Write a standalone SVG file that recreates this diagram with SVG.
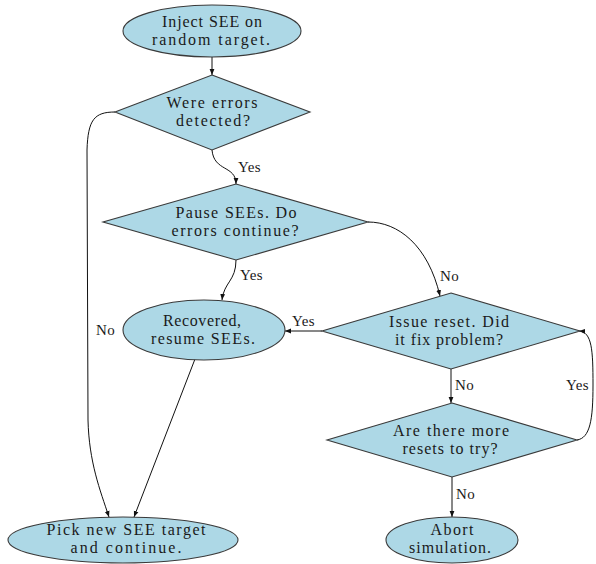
<svg xmlns="http://www.w3.org/2000/svg" width="596" height="564" viewBox="0 0 596 564">
<defs>
<marker id="ah" viewBox="0 0 10 10" refX="10" refY="5" markerWidth="6" markerHeight="6" markerUnits="userSpaceOnUse" orient="auto">
<path d="M0,1 L10,5 L0,9 z" fill="#111"/>
</marker>
<style>
.n{fill:#add8e6;stroke:#3a3a3a;stroke-width:1.1}
.t{font-family:"Liberation Serif","Times New Roman",serif;font-size:16px;fill:#1a1a1a;text-anchor:middle}
.l{font-family:"Liberation Serif","Times New Roman",serif;font-size:15px;fill:#1a1a1a;letter-spacing:0.4px}
.e{fill:none;stroke:#111;stroke-width:1;marker-end:url(#ah)}
</style>
</defs>
<rect width="596" height="564" fill="#fff"/>
<g id="edges">
<path class="e" d="M212,57 L212,75"/>
<path class="e" d="M212,150 C214,172 236,165 236,184"/>
<path class="e" d="M115,112 C94,112 88,120 87,150 L88,420 C89,462 100,490 109,517"/>
<path class="e" d="M236,260 C236,281 224,282 222,300"/>
<path class="e" d="M368,222 C398,222 428,245 440,296"/>
<path class="e" d="M322,331 L285,331"/>
<path class="e" d="M451,369 L451,403"/>
<path class="e" d="M577,440 C590,438 593,420 593,385 C593,350 592,332 579,331"/>
<path class="e" d="M452,477 L452,517"/>
<path class="e" d="M195,359 L134,517"/>
<text class="l" x="238" y="172">Yes</text>
<text class="l" x="96" y="335">No</text>
<text class="l" x="240" y="280">Yes</text>
<text class="l" x="440" y="281">No</text>
<text class="l" x="292" y="326">Yes</text>
<text class="l" x="455" y="390">No</text>
<text class="l" x="566" y="390">Yes</text>
<text class="l" x="456" y="499">No</text>
</g>
<g id="n1">
<ellipse class="n" cx="212" cy="31" rx="89" ry="26"/>
<text class="t" x="212" y="27" textLength="100" lengthAdjust="spacing">Inject SEE on</text>
<text class="t" x="211" y="45" textLength="118" lengthAdjust="spacing">random target.</text>
</g>
<g id="n2">
<polygon class="n" points="212,75 310,112 212,150 115,112"/>
<text class="t" x="212" y="108" textLength="91" lengthAdjust="spacing">Were errors</text>
<text class="t" x="213" y="126" textLength="74" lengthAdjust="spacing">detected?</text>
</g>
<g id="n3">
<polygon class="n" points="236,184 368,222 236,260 103,222"/>
<text class="t" x="236" y="218" textLength="121" lengthAdjust="spacing">Pause SEEs. Do</text>
<text class="t" x="235" y="236" textLength="127" lengthAdjust="spacing">errors continue?</text>
</g>
<g id="n4">
<ellipse class="n" cx="204" cy="330" rx="81" ry="30"/>
<text class="t" x="202" y="326" textLength="78" lengthAdjust="spacing">Recovered,</text>
<text class="t" x="203" y="344" textLength="104" lengthAdjust="spacing">resume SEEs.</text>
</g>
<g id="n5">
<polygon class="n" points="451,293 580,331 451,369 322,331"/>
<text class="t" x="449" y="327" textLength="120" lengthAdjust="spacing">Issue reset. Did</text>
<text class="t" x="449" y="345" textLength="108" lengthAdjust="spacing">it fix problem?</text>
</g>
<g id="n6">
<polygon class="n" points="452,403 577,440 452,477 327,440"/>
<text class="t" x="451" y="436" textLength="116" lengthAdjust="spacing">Are there more</text>
<text class="t" x="450" y="454" textLength="95" lengthAdjust="spacing">resets to try?</text>
</g>
<g id="n7">
<ellipse class="n" cx="123" cy="540" rx="115" ry="23"/>
<text class="t" x="126" y="535" textLength="159" lengthAdjust="spacing">Pick new SEE target</text>
<text class="t" x="126" y="553" textLength="111" lengthAdjust="spacing">and continue.</text>
</g>
<g id="n8">
<ellipse class="n" cx="452" cy="540" rx="66" ry="23"/>
<text class="t" x="452" y="535" textLength="43" lengthAdjust="spacing">Abort</text>
<text class="t" x="450" y="553" textLength="82" lengthAdjust="spacing">simulation.</text>
</g>
</svg>
